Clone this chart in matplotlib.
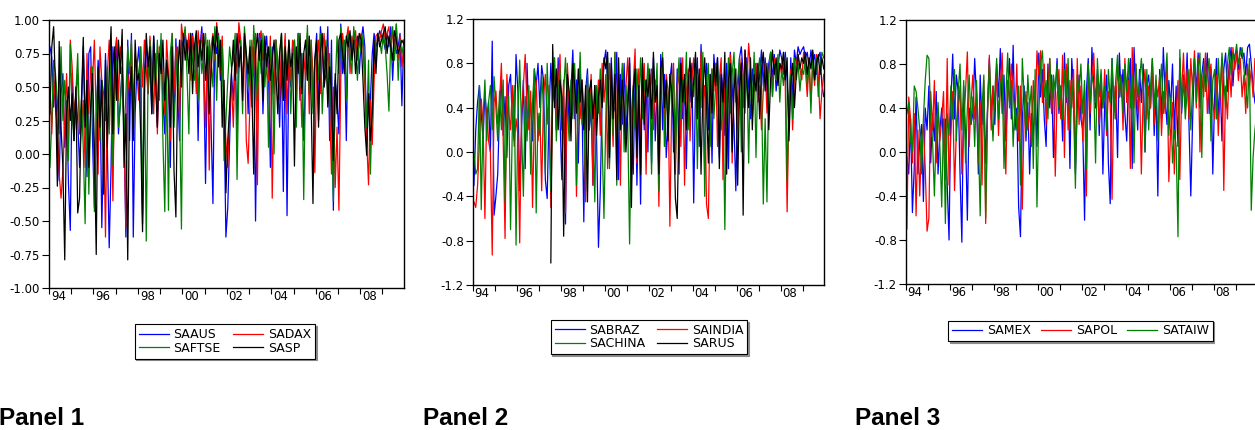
import numpy as np
import matplotlib
matplotlib.use("Agg")
import matplotlib.pyplot as plt

plt.rcParams['font.family'] = ['DejaVu Sans']
plt.rcParams['axes.unicode_minus'] = False

nan = float('nan')
start_year = 1994
label_years = [1994, 1996, 1998, 2000, 2002, 2004, 2006, 2008]
year_labels = ['94', '96', '98', '00', '02', '04', '06', '08']

# ---------------- Panel 1 (monthly readings, 1994-2009) ----------------
saaus = [
    .80, .72, .35, .55, .10, -.20, .45, .60, .05, .40, -.22, -.57,
    .60, .10, .45, .25, -.10, .30, .80, .20, -.17, .75, .80, .10,
    -.40, .20, .70, .55, -.55, .10, .75, .05, -.70, -.10, .80, .60,
    .85, .15, .40, .65, .20, -.62, .85, .10, .90, -.62, .30, .65,
    .80, .50, -.52, .60, .85, .45, .70, .30, .88, .60, .20, .75,
    .85, .40, .15, .70, .55, -.10, .80, .30, .86, .45, .10, .85,
    .80, .90, .75, .85, .60, .90, .70, .85, .10, .80, .95, .60,
    -.22, .65, .80, .20, -.37, .85, .75, .90, .55, .85, .30, -.62,
    -.40, .10, .60, .40, .75, .15, .90, .80, .50, .85, .70, .30,
    .75, .45, .80, -.50, .55, .90, .85, .30, .75, .88, .60, -.10,
    .80, .45, .85, .60, .20, .75, -.28, .85, -.46, .70, .50, .80,
    .85, .55, .90, .40, .75, .10, .60, .88, .45, .80, .35, .70,
    .90, .25, .95, .80, .50, .60, .95, .10, .85, -.42, .55, .40,
    .15, .97, .60, .80, .10, .90, .85, .75, .90, .82, .88, .60,
    .85, .95, .80, .05, .45, .40, .75, .90, .80, .85, .92, .88,
    .85, .78, .90, .80, .95, .55, .85, .75, .80, .90, .36, .85,
]
sadax = [
    .50, .15, .60, .35, .20, -.15, -.33, -.13, .25, .60, .10, .85,
    .65, .30, .45, .60, .15, .20, .40, -.10, .75, .30, .65, .55,
    .85, .25, -.15, .80, .55, .20, -.62, .60, .85, .40, -.35, .75,
    .87, .40, .80, .70, .20, -.55, .60, .45, .82, .35, .75, .60,
    .40, .80, .50, .85, .62, .45, .88, .65, .30, .75, .15, .80,
    .70, .55, .30, .85, .60, .10, .90, .45, .80, .60, .25, .97,
    .85, .92, .70, .90, .55, .88, .80, .45, .92, .75, .90, .65,
    .20, .85, -.12, .80, .90, .70, .98, .85, .60, .88, .40, .10,
    -.10, .30, .55, .20, .75, .60, .98, .85, .45, .88, .10, -.07,
    .40, .85, .60, .90, -.23, .85, .92, .70, .80, .60, .55, .88,
    -.33, .50, .85, .70, .40, .80, .60, .90, .30, .75, .55, .85,
    .80, .40, .88, .65, .20, .75, .55, .90, .30, .85, .60, -.14,
    .70, .85, .45, .75, .90, .60, .80, .35, -.15, .50, -.25, .20,
    -.42, .55, .90, .75, .85, .95, .60, .88, .80, .92, .70, .85,
    .90, .80, .50, .10, -.23, .40, .07, .55, .88, .90, .85, .92,
    .97, .85, .90, .95, .75, .92, .80, .97, .70, .88, .65, .80,
]
saftse = [
    -.10, .25, .70, .60, .40, .15, .80, .25, .55, .30, -.05, .82,
    .30, .10, .45, .75, .20, .40, .05, -.52, .55, -.30, .35, .65,
    -.43, .30, .60, .10, .55, .45, .25, .65, .15, .75, -.08, .40,
    .70, .20, .35, .65, .10, .45, .80, .60, .85, .20, .65, .70,
    .55, .80, -.45, .65, -.65, .60, .85, .35, .70, .50, .85, .40,
    .90, .10, -.43, .60, -.42, .75, .90, .20, .55, .80, .30, -.56,
    .85, .95, .60, .15, .90, .70, .55, .88, .40, .85, .60, .75,
    .90, .60, .85, .70, .50, .95, .40, .88, .65, .80, -.05, .25,
    .55, .80, .65, .70, .90, -.19, .60, .85, .30, .95, .75, .50,
    .85, .35, .96, .70, .40, .85, .60, .90, .50, .75, .05, .80,
    .65, .00, .85, .55, .75, .90, .40, .80, .60, .85, .30, .70,
    .85, .20, .90, .50, .75, -.34, .60, .96, .45, .85, .30, .70,
    .80, .55, .90, .30, .65, .85, .40, .75, .25, -.35, .50, .88,
    .60, .95, .70, .85, .40, .90, .75, .60, .95, .80, .55, .88,
    .75, .90, .60, .20, .70, -.15, .40, .80, .65, .90, .85, .75,
    .90, .80, .60, .32, .85, .95, .70, .97, .55, .85, .75, .82,
]
sasp = [
    .30, .80, .95, .50, -.24, .84, .20, -.10, -.79, .30, .50, .25,
    .45, .10, .50, -.44, -.33, .40, .87, .20, .55, -.10, .35, .60,
    .05, -.75, .65, .20, .55, -.30, .70, .05, .60, .95, .15, .80,
    .40, .85, .60, .93, -.10, .30, -.79, .45, .65, .10, .85, .55,
    .60, .15, -.58, .45, .90, .65, .80, .30, .88, .55, .20, .75,
    .60, .85, .40, .70, .55, .20, .80, -.13, -.47, .60, .85, .50,
    .90, .70, .85, .60, .90, .45, .80, .92, .65, .85, .70, .90,
    .55, .80, .30, .60, .88, .75, .95, .65, .85, .20, .55, -.29,
    .10, .35, .60, .85, .55, .90, .65, .80, .40, .90, .75, .60,
    .80, .50, -.15, .75, .90, .70, .85, .40, .88, .65, .80, .55,
    .70, .85, .60, .30, .75, .90, .40, .80, .55, .85, .65, .75,
    -.09, .80, .60, .90, .45, .75, .85, .55, .88, .40, -.37, .70,
    .85, .20, .75, .90, .50, .80, .35, .65, .45, -.05, .60, .30,
    .85, .90, .75, .60, .88, .80, .92, .70, .85, .60, .80, .90,
    .85, .55, .20, -.01, .45, .10, .30, .85, .60, .90, .80, .85,
    .90, .95, .75, .88, .80, .70, .92, .85, .75, .80, .85, .82,
]

# ---------------- Panel 2 ----------------
sabraz = [
    -.30, .20, .45, .60, .35, .10, .55, .30, .45, .00, 1.00, -.57,
    -.40, -.20, .40, .65, .15, .50, -.05, .60, .70, .25, .10, .88,
    .55, -.35, .20, .65, -.15, .80, .30, .45, .10, .75, .60, .80,
    .40, .78, .65, -.25, -.42, .35, .80, .45, .60, .20, .85, .30,
    -.25, .50, -.65, .75, .20, .55, .92, .30, .65, -.10, .70, .45,
    -.63, .55, .75, .20, .40, -.30, .60, .10, -.86, -.35, .50, .80,
    .92, .60, -.10, .85, .35, .40, .90, -.25, .70, .25, .80, .15,
    .50, .85, .10, -.20, .70, -.30, .55, -.47, .80, .20, .65, .00,
    .75, -.10, .85, .10, .60, -.25, .88, .20, .70, -.05, .25, .65,
    .80, .00, .20, .75, -.20, .85, .30, .60, -.15, .70, .45, .80,
    -.46, .60, .85, .05, .97, .55, -.20, .80, .20, .70, -.10, .88,
    .65, .85, -.05, .75, .55, .15, .80, -.15, .90, .60, .25, -.35,
    .50, .85, .95, .70, .40, .85, .60, .30, .75, .55, .80, .45,
    .70, .92, .60, .85, .50, .80, .90, .65, .88, .55, .75, .92,
    .85, .70, .90, .65, .20, .85, .45, .92, .80, .95, .88, .92,
    .95, .85, .90, .75, .92, .80, .88, .70, .85, .90, .60, .50,
]
saindia = [
    -.45, -.50, -.30, .10, .48, .25, -.60, .40, .10, .00, -.93, .45,
    .55, .25, .45, .80, .10, -.78, .70, .35, .20, .60, .05, .30,
    .15, -.82, .35, .60, .88, .40, .20, .55, -.50, .30, .65, .10,
    .35, -.35, .50, .70, .25, .60, -.50, .45, .85, .20, .60, .88,
    .30, .65, -.55, .80, .45, .20, .70, .75, -.40, .55, .30, .65,
    .40, -.45, .60, .25, .70, -.30, .50, .35, .65, .15, .80, .45,
    .70, -.15, .80, .55, .05, .90, .10, .65, -.30, .75, .20, .60,
    .85, .40, -.25, .60, .93, -.10, .75, .10, .55, .80, -.20, .70,
    .50, .75, .20, .65, .40, -.49, .60, .85, .30, .70, .55, -.67,
    .45, .80, -.20, .60, .70, .05, .85, -.30, .55, .75, .10, .65,
    .85, .50, .70, .30, .90, .45, .60, -.47, -.60, .40, .75, .55,
    .80, .05, .65, .85, -.25, .70, .25, .60, .88, -.10, .75, .55,
    .20, .65, .85, .40, .92, .60, .98, .75, .30, .55, .80, .45,
    .60, .20, .55, .80, .35, .70, .90, .50, .85, .65, .75, .80,
    .70, .85, .60, -.54, .40, .75, .20, .65, .80, .88, .75, .65,
    .90, .75, .50, .85, .45, .80, .60, .88, .70, .30, .55, .70,
]
sachina = [
    .00, -.20, -.15, .60, -.52, .30, .65, .10, .45, .60, .20, .68,
    .40, .10, .55, .20, .65, -.45, .30, .50, -.70, .25, .60, -.84,
    .30, .83, .20, -.40, .50, .10, .60, -.20, .45, .75, -.55, .35,
    .15, .70, .40, -.20, .80, .30, -.35, .60, .85, .10, .50, .75,
    .20, .55, .85, .40, .10, .65, .30, .80, -.30, .45, .90, .25,
    .40, -.35, .70, .20, .55, .30, -.45, .60, .35, .75, .10, -.60,
    .30, .85, -.15, .65, .15, .90, -.30, .70, .30, .80, .00, .60,
    .25, -.83, .35, .60, .20, .75, .45, .85, .30, .65, .50, .80,
    .55, -.20, .75, .45, .80, -.35, .65, .90, .05, .60, .25, .70,
    .40, .75, -.10, .55, .85, .30, .65, .45, .90, .20, .70, .60,
    .50, .85, -.15, .70, .40, .90, -.40, .65, .80, .05, .75, .30,
    .60, .80, .40, .20, .50, -.70, .55, .85, .35, .70, .90, .45,
    .65, .85, .00, .70, .35, .80, -.10, .75, .45, .90, -.05, .70,
    .85, .60, -.47, .30, -.45, .70, .90, .50, .80, .65, .88, .45,
    .75, .60, .85, -.27, .50, .70, .30, .85, .65, .80, .55, .75,
    .70, .85, .60, .80, .35, .90, .65, .85, .50, .75, .90, .85,
]
sarus = [
    nan, nan, nan, nan, nan, nan, nan, nan, nan, nan, nan, nan,
    nan, nan, nan, nan, nan, nan, nan, nan, nan, nan, nan, nan,
    nan, nan, nan, nan, nan, nan, nan, nan, nan, nan, nan, nan,
    nan, nan, nan, nan, nan, nan, -1.00, .97, .40, .75, .20, .65,
    .50, -.76, .30, .70, .55, .10, .80, .60, .35, .75, .45, .65,
    .20, .60, -.45, .55, .65, .30, .60, .15, .50, .65, .40, .85,
    .75, .90, -.05, .80, .30, .70, -.25, .85, .20, .65, .40, .00,
    .35, .80, -.50, .55, .75, -.05, .60, -.20, .85, .25, .65, .50,
    .70, .30, .90, .45, .60, -.20, .75, .85, .40, .65, .10, .70,
    .55, .30, -.42, -.60, .35, .80, .45, .70, .20, .60, .85, .40,
    .65, .90, .30, .75, -.20, .55, .85, .45, -.10, .70, .35, .80,
    .60, .85, -.15, .70, .45, .90, -.20, .65, .80, .00, .55, .75,
    -.30, .55, .80, -.57, .92, .65, .40, .85, .20, .70, .55, .80,
    .30, .75, .90, .55, .80, .20, .65, .92, .70, .85, .60, .80,
    .75, .90, .65, .85, .10, .60, .80, .40, .70, .88, .75, .85,
    .80, .90, .70, .85, .75, .92, .65, .80, .88, .70, .85, .75,
]

# ---------------- Panel 3 ----------------
samex = [
    -.05, -.20, .30, -.55, -.15, .50, -.20, .10, .25, -.45, .40, .20,
    .60, -.10, .35, .10, .55, -.20, .20, .40, .05, .30, -.30, -.80,
    .45, .89, .30, .70, .55, -.20, -.82, .60, .15, -.62, .40, .25,
    .35, .85, .50, -.20, .70, .25, .55, -.10, .40, .85, .30, .60,
    .25, .80, .50, .94, .35, .70, .10, .55, .85, .30, .97, .20,
    .40, -.50, -.77, .30, .60, .10, .45, -.20, .35, .15, .55, .05,
    .90, .50, .75, .30, .05, .80, .40, .70, -.05, .55, .85, .35,
    .60, .10, .90, .45, .75, -.15, .85, .55, -.20, .40, .70, .30,
    .20, -.62, .55, .85, .20, .95, .60, .40, .75, .15, .65, -.20,
    .45, .70, -.10, -.47, .85, .40, .60, -.05, .90, .50, .75, .35,
    .10, .65, .85, -.15, .95, .55, .20, .75, .45, .80, .00, .60,
    .70, .40, .85, .15, .55, -.40, .75, .30, .95, .50, .25, .65,
    .40, .80, .20, .60, .05, .85, .35, .70, .50, .90, .25, -.40,
    .30, .85, .55, .90, .40, .70, .85, .60, .90, .35, .75, -.20,
    .50, .85, .30, .65, .10, .75, .90, .55, .80, .95, .60, .88,
    .92, .75, .95, .85, .90, .70, .95, .98, .80, .60, .45, .40,
]
sapol = [
    -.70, .50, .30, -.10, .35, -.58, .20, -.40, .10, .25, -.15, -.72,
    -.60, .55, .20, .65, -.10, .40, .10, .30, .55, -.25, .85, -.30,
    .15, .55, -.35, .20, .40, .60, -.20, .25, .55, .91, .05, .45,
    .70, .30, .55, -.10, .45, -.30, .65, -.65, .35, .88, .20, .60,
    .40, .75, .15, .60, .90, .30, -.20, .65, .45, .80, .55, .30,
    .80, .10, .60, -.52, .35, .55, .20, .40, .05, .65, .25, .92,
    .70, .92, .45, .80, .25, .60, .85, .35, .65, -.22, .50, .75,
    .30, .88, -.05, .80, .20, .65, .40, .75, -.15, .85, .25, .60,
    .10, .55, -.40, .80, .35, .65, .90, .45, .70, .25, .60, .40,
    .75, .15, .55, .45, -.43, .60, .30, .80, .50, .70, .20, .85,
    .45, .65, -.15, .95, .40, .80, .35, .60, -.20, .55, .75, .30,
    .60, .40, .80, .25, .65, .50, .70, .15, .55, .35, .80, -.27,
    .20, .45, -.20, .35, .65, -.25, .55, .90, .40, .75, .30, .85,
    .55, .92, .40, .85, .00, .70, .50, .90, .35, .65, .80, .45,
    .30, .70, .15, .55, .85, -.35, .60, .30, .80, .50, .95, .75,
    .90, .65, .85, .50, .70, .35, .80, .60, .75, .50, .85, .80,
]
sataiw = [
    .35, .45, .10, .00, .60, .55, .40, .20, -.20, .30, .65, .88,
    .85, .30, .10, -.40, .20, .45, .05, -.50, .30, -.65, .35, .15,
    .60, .30, .75, .10, .55, .80, .20, .65, -.10, .40, .70, .25,
    .50, .05, .65, .15, -.58, .40, .70, -.60, .35, .80, .45, .10,
    .55, .85, .30, .60, .70, -.15, .50, .90, .40, .65, .05, .45,
    .20, .60, -.30, .85, .50, .15, .70, .40, .60, -.15, .75, -.50,
    .35, .80, .92, .50, .65, .30, .85, .45, .70, .55, .80, .40,
    .60, .30, .75, .50, .85, .20, .65, .40, -.33, .70, .55, .80,
    .35, .65, -.15, .80, .45, .70, .60, -.10, .85, .50, .75, .40,
    .60, .20, .75, .45, .85, .30, .65, .88, .50, .70, .35, .80,
    .55, .85, .40, .70, -.10, .80, .50, .65, .85, .60, .00, .75,
    .20, .60, .85, .40, .70, .10, .55, .80, .35, .65, .90, .15,
    .50, -.10, .20, .05, -.77, .93, .40, .65, .30, .55, .75, .20,
    .60, .85, .45, .75, .90, -.05, .80, .55, .70, .85, .10, .65,
    .75, .30, .85, .50, .90, .65, .40, .80, .95, .70, .90, .85,
    .98, .80, .90, .95, .75, .60, .40, .85, -.53, -.05, .20, .35,
]

BLUE, RED, GREEN, BLACK = '#0000ff', '#ff0000', '#008000', '#000000'

W, H = 1255.0, 430.0
fig = plt.figure(figsize=(W / 100, H / 100), dpi=100)


def px_axes(left, top, right, bottom):
    return fig.add_axes([left / W, 1 - bottom / H, (right - left) / W, (bottom - top) / H])


panels = [
    dict(box=(49, 20, 404, 288),
         series=[('SAAUS', saaus, BLUE), ('SADAX', sadax, RED),
                 ('SAFTSE', saftse, GREEN), ('SASP', sasp, BLACK)],
         legend_order=['SAAUS', 'SAFTSE', 'SADAX', 'SASP'], ncol=2,
         leg_center=(225, 341.5), colspacing=1.0,
         ylim=(-1.0, 1.0), yticks=np.arange(-1.0, 1.01, 0.25), yfmt='{:.2f}',
         title='Panel 1', title_x=-1),
    dict(box=(473, 19, 824, 285),
         series=[('SABRAZ', sabraz, BLUE), ('SAINDIA', saindia, RED),
                 ('SACHINA', sachina, GREEN), ('SARUS', sarus, BLACK)],
         legend_order=['SABRAZ', 'SACHINA', 'SAINDIA', 'SARUS'], ncol=2,
         leg_center=(649, 337), colspacing=0.9,
         ylim=(-1.2, 1.2), yticks=np.arange(-1.2, 1.21, 0.4), yfmt='{:.1f}',
         title='Panel 2', title_x=423),
    dict(box=(906, 20, 1257, 284),
         series=[('SAMEX', samex, BLUE), ('SAPOL', sapol, RED),
                 ('SATAIW', sataiw, GREEN)],
         legend_order=['SAMEX', 'SAPOL', 'SATAIW'], ncol=3,
         leg_center=(1080.5, 331), colspacing=0.8,
         ylim=(-1.2, 1.2), yticks=np.arange(-1.2, 1.21, 0.4), yfmt='{:.1f}',
         title='Panel 3', title_x=855),
]

TICK_FS = 8.5
LEG_FS = 9
for p in panels:
    ax = px_axes(*p['box'])
    handles = {}
    for name, vals, col in p['series']:
        v = np.asarray(vals, dtype=float)
        t = start_year + (np.arange(len(v)) + 0.5) / 12.0
        ln, = ax.plot(t, v, color=col, lw=0.9, label=name)
        handles[name] = ln
    ax.set_xlim(1994.0, 2009.97)
    ax.set_ylim(*p['ylim'])
    ax.set_yticks(p['yticks'])
    ax.set_yticklabels([p['yfmt'].format(v) for v in p['yticks']])
    ax.set_xticks(np.arange(1994, 2010))
    ax.set_xticklabels([])
    ax.set_xticks([y + 0.42 for y in label_years], minor=True)
    ax.set_xticklabels(year_labels, minor=True)
    ax.tick_params(axis='x', which='major', direction='out', length=4, width=0.8)
    ax.tick_params(axis='x', which='minor', length=0, pad=1.5, labelsize=TICK_FS)
    ax.tick_params(axis='y', direction='out', length=5, width=0.8, pad=1.5, labelsize=TICK_FS)
    for s in ax.spines.values():
        s.set_linewidth(1.0)
        s.set_color('black')

    cx, cy = p['leg_center']
    leg = fig.legend([handles[n] for n in p['legend_order']], p['legend_order'],
                     loc='center', bbox_to_anchor=(cx / W, 1 - cy / H),
                     ncol=p['ncol'], fontsize=LEG_FS, frameon=True, fancybox=False,
                     handlelength=2.4, handletextpad=0.4, columnspacing=p['colspacing'],
                     labelspacing=0.05, borderpad=0.3,
                     shadow={'ox': 1.2, 'oy': -1.2, 'shade': 0.45, 'alpha': 1.0})
    leg.get_frame().set_edgecolor('black')
    leg.get_frame().set_linewidth(0.8)

    fig.text(p['title_x'] / W, 1 - 425 / H, p['title'], fontsize=17.5,
             fontweight='bold', ha='left', va='baseline',
             family=['Liberation Sans', 'DejaVu Sans'])

fig.savefig('out.png', dpi=100)
